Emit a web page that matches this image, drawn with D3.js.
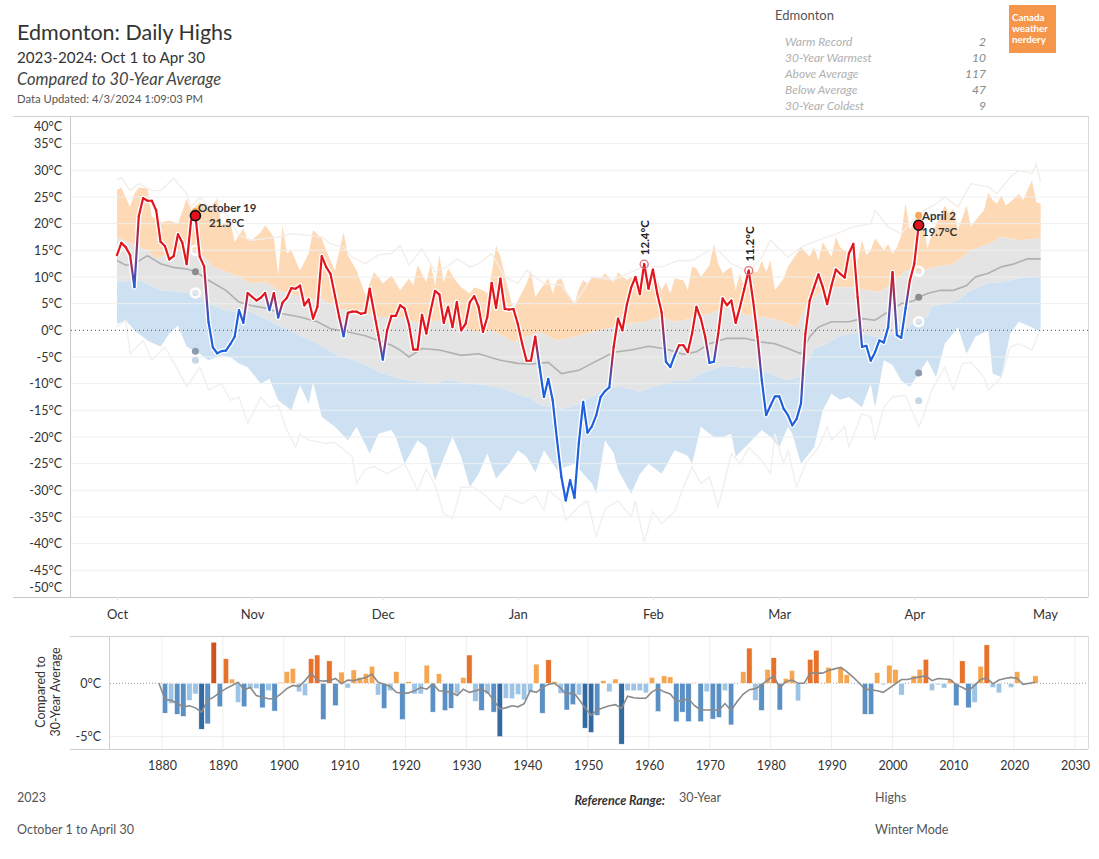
<!DOCTYPE html>
<html><head><meta charset="utf-8">
<script src="https://cdn.jsdelivr.net/npm/d3@7"></script>
<style>
body{margin:0;background:#fff;}
svg{display:block;font-family:"Lato","Open Sans",sans-serif;}
</style></head><body>
<svg id="c" width="1099" height="859"></svg>
<script>
// ---------- DATA ----------
// Daily highs 2023-10-01 .. 2024-04-02 (day offset = index)
const highs = [
 14.1,16.4,15.6,14.1,8.1,21.4,24.8,24.3,24.3,22.5,
 16.6,15.8,13.3,13.9,18.0,16.4,12.4,20.6,21.5,13.8,
 12.0,1.6,-3.2,-4.3,-3.9,-3.8,-2.6,-1.2,3.8,1.4,
 7.0,6.3,5.6,6.1,7.0,3.8,7.0,2.4,5.2,6.1,
 7.9,7.8,8.4,4.7,5.8,2.2,4.4,13.9,11.9,10.6,
 6.6,2.5,-1.1,3.3,3.5,3.5,3.1,3.3,7.8,3.4,
 -0.9,-5.5,0.0,2.7,2.7,4.7,4.1,1.2,-3.6,-3.6,
 2.9,-0.6,3.7,7.4,6.7,1.4,4.4,0.6,5.3,0.0,
 1.2,5.3,6.4,4.4,-0.3,2.5,8.9,4.2,9.7,4.0,
 3.9,4.0,1.2,-2.5,-5.7,-5.7,-1.2,-6.9,-12.5,-9.1,
 -13.1,-20.6,-27.5,-31.9,-28.1,-31.4,-21.2,-13.4,-19.2,-18.0,
 -15.9,-12.5,-11.4,-10.7,-3.1,2.2,0.0,4.7,8.0,10.0,
 6.8,12.4,7.8,11.4,6.9,3.4,-5.9,-6.9,-4.7,-2.8,
 -2.8,-4.1,-0.6,4.4,2.2,-1.2,-6.1,-5.9,-0.6,6.0,
 4.7,5.6,1.4,4.4,7.8,11.2,5.6,-1.2,-9.4,-15.9,
 -14.1,-12.4,-12.4,-14.7,-15.9,-17.8,-16.6,-13.7,-0.6,5.6,
 8.1,10.5,8.1,4.9,8.4,11.4,10.6,9.9,14.4,16.2,
 6.2,-3.1,-2.9,-5.7,-4.1,-1.9,-2.3,0.6,10.9,-0.9,
 -1.4,4.1,9.4,12.5,19.7
];
// Reference bands: [day offset from Oct 1, °C]
const faintHigh = [[0,28.1],[1,28.7],[3,26.2],[5,27.5],[8,26.2],[10,26.2],[13,28.5],[16,25.6],[17,23.1],[19,25.0],[22,22.5],[25,21.9],[28,17.8],[31,16.9],[34,17.2],[37,17.5],[40,18.1],[44,17.8],[47,17.5],[49,16.2],[52,15.6],[54,13.7],[57,12.5],[60,14.1],[63,14.4],[65,15.9],[67,12.2],[70,15.3],[73,11.0],[76,12.0],[78,13.4],[81,11.9],[83,12.5],[86,14.4],[89,10.0],[92,8.8],[94,11.2],[98,8.8],[102,8.5],[105,5.0],[109,10.0],[114,9.4],[117,10.6],[121,12.0],[125,11.9],[129,13.1],[132,13.1],[136,15.0],[138,15.0],[141,12.5],[145,11.0],[148,13.7],[150,16.9],[154,13.7],[157,15.6],[161,16.9],[165,18.1],[169,19.4],[173,20.0],[174,22.5],[177,19.4],[180,18.1],[184,21.9],[188,23.7],[190,25.0],[193,23.1],[196,27.5],[200,26.9],[202,25.6],[205,28.7],[207,30.0],[210,29.4],[211,31.2],[212,27.7]];
const max30 = [[0,26.3],[1,26.8],[3,23.1],[4,25.6],[5,26.8],[7,26.6],[8,21.3],[10,20.2],[12,20.6],[14,20.0],[16,24.7],[17,22.5],[19,24.0],[21,22.5],[23,24.7],[24,19.7],[26,20.6],[27,16.5],[29,19.1],[30,16.9],[31,16.9],[33,18.4],[34,19.7],[36,17.5],[37,10.3],[38,19.7],[39,14.4],[40,15.0],[42,11.2],[44,14.4],[45,18.8],[47,17.2],[48,15.0],[50,11.2],[52,18.4],[53,14.1],[55,11.2],[57,6.6],[58,8.8],[59,10.9],[60,10.0],[61,8.8],[63,10.3],[65,7.5],[67,9.7],[68,8.4],[69,12.2],[71,9.0],[72,12.5],[73,8.4],[74,14.1],[75,9.0],[76,11.6],[78,9.0],[79,8.1],[81,6.9],[82,8.1],[84,7.5],[85,6.9],[86,10.7],[87,15.9],[88,13.8],[90,6.9],[91,4.0],[92,5.6],[94,8.8],[95,11.2],[96,6.2],[97,7.5],[99,9.7],[100,6.9],[101,9.4],[102,9.7],[103,7.5],[105,5.0],[106,7.8],[107,9.4],[108,8.8],[109,10.0],[111,9.7],[112,10.7],[114,9.0],[115,10.9],[117,9.4],[118,10.0],[120,8.8],[121,10.7],[122,9.4],[123,11.2],[125,7.5],[126,9.0],[127,6.9],[128,9.7],[130,9.4],[131,7.5],[132,11.9],[133,11.6],[134,10.0],[136,12.2],[137,16.2],[138,12.5],[139,10.7],[141,11.9],[142,7.5],[143,10.7],[144,7.5],[145,11.2],[147,10.9],[148,13.1],[149,10.9],[150,13.1],[151,7.5],[153,9.7],[154,11.9],[156,14.4],[157,15.6],[159,13.8],[160,15.6],[161,13.1],[162,16.5],[164,13.8],[165,17.5],[166,15.6],[168,14.4],[169,15.3],[170,13.1],[171,16.9],[172,14.1],[173,15.0],[174,17.2],[176,15.0],[177,16.2],[178,14.4],[179,15.6],[180,17.8],[181,23.8],[182,18.8],[184,22.1],[185,20.6],[186,15.3],[187,18.1],[189,21.6],[190,23.4],[191,21.9],[192,22.8],[193,18.8],[195,23.4],[196,19.4],[197,20.6],[199,22.5],[200,25.9],[201,24.4],[202,23.8],[203,25.3],[204,23.4],[205,24.0],[207,25.6],[208,24.4],[209,26.3],[210,28.1],[211,24.0],[212,23.8]];
const upperNorm = [[0,17.5],[4,15.9],[7,15.0],[9,13.4],[12,14.4],[14,15.0],[18,15.0],[20,13.8],[22,11.9],[26,10.7],[28,10.0],[31,8.8],[34,9.1],[37,7.5],[41,6.6],[44,5.6],[47,5.9],[50,4.4],[53,3.7],[56,3.7],[58,3.1],[60,2.5],[65,2.5],[70,1.2],[74,1.9],[79,0.6],[83,-0.3],[86,0.0],[89,-1.2],[91,-2.2],[94,-1.2],[97,-0.3],[101,-1.9],[105,-1.2],[109,-0.3],[114,0.6],[117,1.2],[121,1.6],[125,2.5],[128,1.6],[132,2.2],[136,3.1],[140,4.4],[143,3.1],[148,2.5],[152,1.9],[156,0.6],[158,4.4],[161,6.9],[165,8.1],[169,8.1],[172,7.5],[175,7.2],[178,8.8],[181,11.2],[184,11.1],[188,11.9],[192,12.5],[196,15.0],[200,16.2],[203,17.5],[207,16.9],[212,17.2]];
const meanT = [[0,13.1],[2,12.2],[4,12.5],[7,14.0],[10,12.5],[13,11.8],[16,11.5],[18,11.0],[21,9.4],[25,7.5],[28,5.3],[31,4.6],[34,4.2],[38,3.1],[42,2.5],[46,1.6],[49,0.3],[53,-0.3],[57,-1.0],[60,-1.9],[63,-2.8],[65,-3.7],[67,-5.0],[70,-3.4],[74,-3.7],[79,-4.7],[83,-4.4],[88,-5.6],[92,-6.2],[95,-6.3],[99,-6.0],[102,-8.1],[106,-7.5],[109,-6.2],[114,-4.1],[118,-3.7],[122,-3.0],[126,-3.5],[130,-4.5],[133,-4.0],[136,-2.5],[140,-1.5],[144,-1.5],[148,-2.2],[151,-2.5],[154,-3.4],[157,-4.4],[159,-1.2],[161,0.6],[164,1.6],[168,1.6],[171,2.2],[174,1.9],[177,3.5],[180,5.0],[183,5.6],[184,6.2],[186,6.9],[189,7.5],[192,7.5],[195,8.4],[197,10.0],[200,10.7],[203,11.9],[206,12.5],[209,13.4],[212,13.4]];
const lowerNorm = [[0,9.0],[5,9.4],[10,7.5],[14,7.2],[18,6.9],[21,5.0],[25,3.7],[28,3.4],[30,3.7],[33,2.5],[38,0.6],[42,-1.0],[46,-2.5],[50,-4.5],[54,-5.5],[57,-6.5],[61,-8.1],[65,-9.1],[69,-9.6],[73,-10.0],[76,-9.2],[80,-9.9],[84,-10.2],[88,-10.8],[92,-12.0],[95,-12.8],[97,-14.0],[102,-14.7],[105,-14.3],[109,-12.5],[112,-11.0],[116,-10.6],[120,-11.5],[124,-10.4],[128,-9.5],[131,-9.5],[135,-7.8],[139,-6.7],[143,-6.9],[147,-7.2],[151,-8.5],[154,-9.4],[157,-8.5],[158,-7.0],[160,-3.5],[163,-2.5],[166,-1.0],[170,-0.5],[174,-1.2],[177,-1.0],[180,-0.3],[182,0.9],[184,1.6],[186,2.5],[187,4.4],[190,5.0],[193,5.6],[196,7.5],[200,8.8],[203,9.0],[207,9.7],[212,10.3]];
const min30 = [[0,1.2],[2,1.9],[4,0.0],[7,-1.9],[10,-3.1],[12,-0.6],[14,0.9],[16,-3.1],[19,-4.4],[21,-5.6],[24,-4.7],[26,-5.0],[28,-6.2],[30,-6.9],[33,-10.0],[35,-9.1],[37,-13.1],[40,-15.0],[42,-10.3],[44,-13.7],[45,-9.7],[47,-16.2],[50,-18.1],[53,-20.6],[55,-18.1],[58,-23.1],[60,-19.4],[63,-18.7],[64,-20.0],[66,-25.0],[69,-20.6],[71,-21.9],[73,-28.1],[76,-21.9],[77,-20.0],[79,-23.7],[81,-29.4],[83,-26.9],[85,-23.1],[87,-27.8],[90,-25.0],[92,-22.5],[94,-23.7],[96,-26.6],[98,-22.5],[101,-26.2],[105,-25.0],[107,-26.9],[109,-28.7],[110,-30.6],[112,-20.6],[114,-23.0],[115,-26.2],[118,-30.6],[120,-27.0],[122,-25.0],[125,-26.9],[128,-22.5],[131,-23.5],[132,-25.0],[134,-18.1],[137,-20.0],[139,-20.0],[141,-19.4],[142,-23.7],[145,-21.2],[148,-18.7],[150,-20.0],[152,-21.9],[154,-18.1],[155,-19.4],[157,-25.0],[160,-21.9],[162,-15.0],[164,-11.9],[166,-13.0],[168,-12.5],[171,-14.4],[173,-10.0],[174,-14.4],[176,-5.6],[178,-6.5],[180,-9.4],[182,-10.6],[184,-8.1],[186,-5.6],[188,-8.8],[190,-2.5],[193,0.6],[195,-4.4],[197,-1.2],[200,0.0],[201,-8.1],[203,-8.8],[205,-0.6],[207,1.6],[210,0.6],[212,-0.3]];
const faintLow = [[0,0.6],[2,1.9],[3,-4.4],[6,-1.9],[8,-5.6],[11,-3.1],[14,-7.5],[16,-10.6],[19,-6.9],[21,-11.2],[24,-10.0],[26,-13.1],[28,-12.5],[30,-17.5],[33,-12.5],[35,-14.4],[37,-14.0],[39,-18.7],[41,-21.9],[42,-19.4],[44,-20.6],[48,-21.2],[50,-21.0],[54,-23.7],[55,-28.7],[57,-26.0],[59,-25.5],[62,-26.9],[64,-26.0],[66,-25.0],[69,-30.0],[71,-26.0],[73,-29.0],[75,-34.4],[77,-35.3],[79,-29.4],[82,-29.5],[84,-30.6],[88,-33.7],[89,-31.0],[93,-32.5],[96,-31.0],[98,-33.7],[99,-30.0],[102,-32.0],[103,-35.6],[106,-33.0],[108,-32.0],[110,-38.7],[112,-33.5],[115,-32.0],[118,-35.0],[119,-32.0],[121,-39.7],[123,-34.0],[125,-36.2],[128,-34.0],[130,-29.4],[132,-25.6],[134,-28.7],[136,-27.5],[138,-33.1],[141,-23.1],[143,-25.0],[145,-22.0],[148,-24.4],[150,-26.9],[151,-19.4],[153,-25.0],[154,-22.5],[156,-29.4],[158,-25.0],[161,-22.0],[163,-18.1],[164,-20.6],[167,-18.0],[168,-21.9],[171,-15.6],[173,-16.2],[174,-20.6],[176,-14.4],[178,-12.5],[181,-12.2],[184,-18.1],[185,-16.2],[187,-11.2],[190,-6.9],[192,-11.2],[194,-6.2],[196,-6.0],[199,-8.8],[200,-11.2],[203,-8.8],[205,-3.1],[207,-2.5],[210,-3.7],[212,0.6]];

// Highlighted days
const peakDays = [18, 184];
const peakNames = ["October 19", "April 2"];
const refDotVals = [[22.3, 15.0, 11.0, 7.0, -3.9, -5.6], [21.6, 11.1, 6.2, 1.6, -8.0, -13.2]];
const recordDays = [121, 145];

const yTicks = [40,35,30,25,20,15,10,5,0,-5,-10,-15,-20,-25,-30,-35,-40,-45,-50];

// Stats panel
const statLabels = ["Warm Record","30-Year Warmest","Above Average","Below Average","30-Year Coldest"];
const statValues = [2, 10, 117, 47, 9];

// Seasonal anomaly history (Oct–Apr mean high vs 30-yr avg)
const annYears = d3.range(1881, 2025);
const annAnom = [
 -2.8,-1.9,-2.9,-3.1,-1.6,-1.0,-4.3,-3.8,3.85,-2.2,
 2.3,0.4,-1.8,-2.2,-0.5,-0.5,-2.3,-0.7,-2.6,0.1,
 1.1,1.4,-0.8,-1.15,2.3,2.65,-3.4,2.1,-2.1,1.05,
 -0.45,1.25,0.55,0.9,1.6,-1.1,-2.35,-0.7,1.1,-3.4,
 0.15,-1.0,-1.0,1.7,-2.7,0.9,-2.55,-2.35,-1.0,0.55,
 2.65,-1.7,-2.55,-1.0,-2.7,-5.0,-1.4,-1.45,-1.05,-1.55,
 -0.85,1.8,-2.8,2.2,0.15,-0.95,-2.5,-2.0,-1.1,-4.2,
 -4.6,-3.0,0.25,-0.8,0.4,-5.7,-0.7,-0.7,-0.7,-0.9,
 0.55,-2.65,0.7,0.6,-3.6,-2.7,-3.6,0.05,-3.6,-0.8,
 -3.35,-3.2,-0.7,-3.9,0.0,1.1,3.3,-1.6,-2.55,1.3,
 2.4,-2.5,0.45,1.2,-1.65,0.0,2.25,3.1,0.0,1.5,
 0.0,1.5,0.8,0.0,-0.1,-2.9,-2.9,1.0,-0.15,1.7,
 1.3,-1.1,0.0,0.7,1.3,2.25,-0.7,-0.15,-0.45,0.35,
 -2.1,2.1,-2.3,-1.8,1.6,3.6,-0.4,-0.9,0.0,-0.4,
 1.1,-0.15,-0.1,0.7
];
const runAvg = [[1880,0],[1881,-1.5],[1882,-1.6],[1884,-2.2],[1885,-2.1],[1886,-2.3],[1887,-2.7],[1888,-1.6],[1889,-1.3],[1890,-0.85],[1891,-0.5],[1892,-0.2],[1893,0.1],[1894,-0.6],[1895,-0.4],[1896,-1.15],[1897,-1.3],[1898,-1.45],[1899,-1.45],[1900,-1.0],[1901,-0.5],[1902,-0.2],[1903,-0.3],[1904,0.25],[1905,0.95],[1906,0.3],[1907,0.2],[1908,0.25],[1909,0.45],[1910,-0.05],[1911,0.3],[1912,0.25],[1913,0.4],[1914,0.55],[1915,0.85],[1916,0.1],[1917,-0.1],[1918,-0.3],[1919,-0.85],[1920,-0.95],[1921,-0.9],[1922,-0.7],[1923,-0.4],[1924,-0.55],[1925,-0.05],[1926,-0.7],[1927,-0.75],[1928,-0.85],[1929,-1.15],[1930,-0.55],[1931,-0.85],[1932,-0.7],[1933,-0.55],[1934,-0.85],[1935,-1.6],[1936,-2.4],[1937,-2.3],[1938,-2.1],[1939,-2.2],[1940,-1.9],[1941,-0.7],[1942,-0.85],[1943,-0.4],[1944,-0.1],[1945,0],[1946,-0.45],[1947,-1.1],[1948,-0.8],[1949,-1.5],[1950,-2.3],[1951,-3.0],[1952,-2.5],[1953,-2.3],[1954,-2.1],[1955,-2.0],[1956,-2.35],[1957,-1.2],[1958,-1.35],[1959,-1.4],[1960,-1.4],[1961,-0.8],[1962,-0.5],[1963,-0.8],[1964,-1.0],[1965,-1.7],[1966,-1.6],[1967,-1.45],[1968,-2.1],[1969,-2.5],[1970,-2.5],[1971,-2.5],[1972,-2.5],[1973,-1.9],[1974,-2.55],[1975,-1.7],[1976,-1.0],[1977,-0.6],[1978,-0.5],[1979,-0.15],[1980,0.3],[1981,0.7],[1982,-0.4],[1983,0.15],[1984,0.3],[1985,0.0],[1986,0.0],[1987,0.95],[1988,0.95],[1989,0.95],[1990,1.2],[1991,1.35],[1992,1.5],[1993,1.1],[1994,0.6],[1995,0.05],[1996,-0.55],[1997,-0.6],[1998,-0.7],[1999,-0.85],[2000,-0.45],[2001,-0.05],[2002,0.35],[2003,0.35],[2004,0.5],[2005,0.6],[2006,0.7],[2007,0.25],[2008,0.45],[2009,0.4],[2010,0.35],[2011,-0.15],[2012,-0.4],[2013,-0.7],[2014,-0.2],[2015,0.35],[2016,0.5],[2017,-0.05],[2018,0.3],[2019,0.45],[2020,0.55],[2021,0.45],[2022,-0.1],[2023,0.0],[2024,0.1]];
const decadeTicks = d3.range(1880, 2031, 10);

// ---------- DRAW ----------
const svg = d3.select('#c');
const FONT = '"Lato","Open Sans",sans-serif';
const start = new Date(2023, 9, 1);
const dayDate = d => d3.timeDay.offset(start, d);
const x = d3.scaleTime().domain([start, new Date(2024, 4, 1)]).range([117, 1045]);
const y = d3.scaleLinear().domain([-50, 40]).range([597, 117]);
const pt = ([d, v]) => [x(dayDate(d)), y(v)];
const line = d3.line();

// header
const hdr = svg.append('g').attr('fill', '#333');
hdr.append('text').attr('x', 17).attr('y', 40).attr('font-size', 21.5).text('Edmonton: Daily Highs');
hdr.append('text').attr('x', 17).attr('y', 63).attr('font-size', 15.2).text('2023-2024: Oct 1 to Apr 30');
hdr.append('text').attr('x', 17).attr('y', 85).attr('font-size', 16.5).attr('font-style', 'italic').attr('fill', '#444').text('Compared to 30-Year Average');
hdr.append('text').attr('x', 17).attr('y', 103).attr('font-size', 11.3).attr('fill', '#555').text('Data Updated: 4/3/2024 1:09:03 PM');

// stats panel
svg.append('text').attr('x', 775).attr('y', 20).attr('font-size', 13).attr('fill', '#555').text('Edmonton');
statLabels.forEach((s, i) => {
  const yy = 46 + i * 16;
  svg.append('text').attr('x', 785).attr('y', yy).attr('font-size', 12).attr('font-style', 'italic').attr('fill', '#b0b0b0').text(s);
  svg.append('text').attr('x', 986).attr('y', yy).attr('font-size', 12).attr('font-style', 'italic').attr('fill', '#888').attr('text-anchor', 'end').text(statValues[i]);
});
// logo
svg.append('rect').attr('x', 1009).attr('y', 5).attr('width', 47).attr('height', 48).attr('fill', '#f5964b');
['Canada', 'weather', 'nerdery'].forEach((t, i) => {
  svg.append('text').attr('x', 1012).attr('y', 21 + i * 11).attr('font-size', 9.8).attr('font-weight', 'bold').attr('fill', '#fff').text(t);
});

// frame lines
svg.append('line').attr('x1', 13).attr('x2', 1088).attr('y1', 116.5).attr('y2', 116.5).attr('stroke', '#d0d0d0');
svg.append('line').attr('x1', 13).attr('x2', 1088).attr('y1', 597.5).attr('y2', 597.5).attr('stroke', '#c8c8c8');
svg.append('line').attr('x1', 1088.5).attr('x2', 1088.5).attr('y1', 116).attr('y2', 597).attr('stroke', '#d8d8d8');

// bands
const poly = (top, bot) => line(top.map(pt).concat(bot.slice().reverse().map(pt))) + 'Z';
svg.append('path').attr('d', poly(max30, upperNorm)).attr('fill', '#fdd9b6');
svg.append('path').attr('d', poly(upperNorm, lowerNorm)).attr('fill', '#e4e4e4');
svg.append('path').attr('d', poly(lowerNorm, min30)).attr('fill', '#cde1f2');

// gridlines (on top of bands)
const grid = svg.append('g');
yTicks.filter(t => t !== 40 && t !== -50 && t !== 0).forEach(t => {
  grid.append('line').attr('x1', 71).attr('x2', 1088).attr('y1', y(t)).attr('y2', y(t))
    .attr('stroke', '#efefef').attr('stroke-width', 1);
});

// faint reference lines
svg.append('path').attr('d', line(faintHigh.map(pt))).attr('fill', 'none').attr('stroke', '#f3eeea').attr('stroke-width', 1.4);
svg.append('path').attr('d', line(faintLow.map(pt))).attr('fill', 'none').attr('stroke', '#f0f0f0').attr('stroke-width', 1.4);
// mean line
svg.append('path').attr('d', line(meanT.map(pt))).attr('fill', 'none').attr('stroke', '#b0b0b0').attr('stroke-width', 1.6);

// zero line
svg.append('line').attr('x1', 71).attr('x2', 1088).attr('y1', y(0)).attr('y2', y(0))
  .attr('stroke', '#555').attr('stroke-dasharray', '1,3').attr('stroke-width', 1);

// axis line
svg.append('line').attr('x1', 70.5).attr('x2', 70.5).attr('y1', 116).attr('y2', 597).attr('stroke', '#c8c8c8');

// y axis labels
const yAxis = svg.append('g').attr('transform', 'translate(70,0)')
  .call(d3.axisLeft(y).tickValues(yTicks).tickSize(0).tickPadding(8).tickFormat(d => d + '°C'));
yAxis.select('.domain').remove();
yAxis.selectAll('text').attr('font-size', 12.5).attr('fill', '#333').attr('font-family', FONT)
  .attr('dy', d => d === 40 ? '1.1em' : (d === -50 ? '-0.45em' : '0.32em'));

// x axis labels
const xAxis = svg.append('g').attr('transform', 'translate(0,597)')
  .call(d3.axisBottom(x).ticks(d3.timeMonth.every(1)).tickSize(3).tickPadding(10).tickFormat(d3.timeFormat('%b')));
xAxis.select('.domain').remove();
xAxis.selectAll('line').attr('stroke', '#e2e2e2');
xAxis.selectAll('text').attr('font-size', 13).attr('fill', '#333').attr('font-family', FONT);

// reference dots on highlighted days
const dotStyle = [
  {f: '#f6a760', s: 'none', r: 3.5},
  {f: 'none', s: '#ffffff', r: 4.5, w: 2.5},
  {f: '#8c8c8c', s: 'none', r: 3.5},
  {f: 'none', s: '#ffffff', r: 4.5, w: 2.5},
  {f: '#8e9bab', s: 'none', r: 3.5},
  {f: '#c7d7e8', s: 'none', r: 3.5}
];
peakDays.forEach((d, k) => {
  refDotVals[k].forEach((v, i) => {
    const st = dotStyle[i];
    svg.append('circle').attr('cx', x(dayDate(d))).attr('cy', y(v)).attr('r', st.r)
      .attr('fill', st.f).attr('stroke', st.s).attr('stroke-width', st.w || 0);
  });
});

// actual line with colour gradient (red above mean, blue below)
const meanAt = d => {
  const i = d3.bisector(p => p[0]).left(meanT, d);
  if (i <= 0) return meanT[0][1];
  if (i >= meanT.length) return meanT[meanT.length - 1][1];
  const a = meanT[i - 1], b = meanT[i];
  if (b[0] === d) return b[1];
  return a[1] + (b[1] - a[1]) * (d - a[0]) / (b[0] - a[0]);
};
const RED = '#e2141c', BLUE = '#1d5fdc';
const col = d => highs[d] >= meanAt(d) ? RED : BLUE;
const hp = highs.map((v, d) => [x(dayDate(d)), y(v)]);
svg.append('path').attr('d', line(hp)).attr('fill', 'none').attr('stroke', '#fff').attr('stroke-width', 5).attr('stroke-linejoin', 'round');
const defs = svg.append('defs');
const segG = svg.append('g');
for (let d = 0; d < highs.length - 1; d++) {
  const id = 'g' + d;
  const g = defs.append('linearGradient').attr('id', id).attr('gradientUnits', 'userSpaceOnUse')
    .attr('x1', hp[d][0]).attr('y1', hp[d][1]).attr('x2', hp[d + 1][0]).attr('y2', hp[d + 1][1]);
  g.append('stop').attr('offset', '0%').attr('stop-color', col(d));
  g.append('stop').attr('offset', '100%').attr('stop-color', col(d + 1));
  segG.append('path').attr('d', line([hp[d], hp[d + 1]])).attr('fill', 'none')
    .attr('stroke', `url(#${id})`).attr('stroke-width', 2.2).attr('stroke-linecap', 'round');
}

// record markers & vertical labels
recordDays.forEach(d => {
  const cx = x(dayDate(d)), cy = y(highs[d]);
  svg.append('circle').attr('cx', cx).attr('cy', cy).attr('r', 4).attr('fill', 'none').attr('stroke', '#d9747a').attr('stroke-width', 1.3);
  svg.append('text').attr('transform', `translate(${cx + 5},${cy - 9}) rotate(-90)`)
    .attr('font-size', 11.5).attr('font-weight', 'bold').attr('fill', '#222').text(highs[d].toFixed(1) + '°C');
});

// peak markers
peakDays.forEach((d, k) => {
  const cx = x(dayDate(d)), cy = y(highs[d]);
  svg.append('circle').attr('cx', cx).attr('cy', cy).attr('r', 5).attr('fill', '#e8101a').attr('stroke', '#111').attr('stroke-width', 1.6);
});
svg.append('text').attr('x', 198).attr('y', 212).attr('font-size', 11.5).attr('font-weight', 'bold').attr('fill', '#333').text(peakNames[0]);
svg.append('text').attr('x', 209).attr('y', 227).attr('font-size', 11.5).attr('font-weight', 'bold').attr('fill', '#333').text(highs[18].toFixed(1) + '°C');
svg.append('text').attr('x', 922).attr('y', 220).attr('font-size', 11.5).attr('font-weight', 'bold').attr('fill', '#333').text(peakNames[1]);
svg.append('text').attr('x', 922).attr('y', 236).attr('font-size', 11.5).attr('font-weight', 'bold').attr('fill', '#333').text(highs[184].toFixed(1) + '°C');

// ---------- BOTTOM CHART ----------
const xb = d3.scaleLinear().domain([1880, 2030]).range([162, 1075]);
const yb = d3.scaleLinear().domain([-5, 0]).range([736.7, 683.3]);
const B = svg.append('g');
B.append('line').attr('x1', 70).attr('x2', 1088).attr('y1', 636.5).attr('y2', 636.5).attr('stroke', '#d0d0d0');
B.append('line').attr('x1', 70).attr('x2', 1088).attr('y1', 749.5).attr('y2', 749.5).attr('stroke', '#d0d0d0');
B.append('line').attr('x1', 109.5).attr('x2', 109.5).attr('y1', 636).attr('y2', 749).attr('stroke', '#d0d0d0');
B.append('line').attr('x1', 1088.5).attr('x2', 1088.5).attr('y1', 636).attr('y2', 749).attr('stroke', '#dcdcdc');
decadeTicks.forEach(t => {
  B.append('line').attr('x1', xb(t)).attr('x2', xb(t)).attr('y1', 637).attr('y2', 749).attr('stroke', '#efefef');
});
B.append('line').attr('x1', 110).attr('x2', 1088).attr('y1', yb(-5)).attr('y2', yb(-5)).attr('stroke', '#ececec');
B.append('line').attr('x1', 110).attr('x2', 1088).attr('y1', yb(0)).attr('y2', yb(0)).attr('stroke', '#999').attr('stroke-dasharray', '1,2');

// bars sit centred half a year before their season year tick
const barX = yr => xb(yr - 0.5);
const barColor = v => v >= 3.7 ? '#cf521d' : v >= 2.0 ? '#e9722b' : v > 0 ? '#f6a650'
  : v <= -4.0 ? '#3369a1' : v <= -2.0 ? '#5a90c4' : '#9dc4e4';
annYears.forEach((yr, i) => {
  const v = annAnom[i];
  if (Math.abs(v) < 0.03) return;
  B.append('rect').attr('x', barX(yr) - 2.7).attr('width', 5.4)
    .attr('y', Math.min(yb(v), yb(0))).attr('height', Math.abs(yb(v) - yb(0)))
    .attr('fill', barColor(v)).attr('stroke', '#fff').attr('stroke-width', 0.5);
});
B.append('path').attr('d', d3.line().x(d => barX(d[0])).y(d => yb(d[1]))(runAvg))
  .attr('fill', 'none').attr('stroke', '#8a8a8a').attr('stroke-width', 1.6);

const xbAxis = B.append('g').attr('transform', 'translate(0,749)')
  .call(d3.axisBottom(xb).tickValues(decadeTicks).tickSize(0).tickPadding(12).tickFormat(d3.format('d')));
xbAxis.select('.domain').remove();
xbAxis.selectAll('text').attr('font-size', 12.5).attr('fill', '#333').attr('font-family', FONT);
const ybAxis = B.append('g').attr('transform', 'translate(109,0)')
  .call(d3.axisLeft(yb).tickValues([0, -5]).tickSize(0).tickPadding(8).tickFormat(d => d + '°C'));
ybAxis.select('.domain').remove();
ybAxis.selectAll('text').attr('font-size', 12.5).attr('fill', '#333').attr('font-family', FONT);
B.append('text').attr('transform', 'translate(45,692) rotate(-90)').attr('text-anchor', 'middle').attr('font-size', 12.5).attr('fill', '#333').text('Compared to');
B.append('text').attr('transform', 'translate(60,692) rotate(-90)').attr('text-anchor', 'middle').attr('font-size', 12.5).attr('fill', '#333').text('30-Year Average');

// ---------- FOOTER ----------
const F = svg.append('g').attr('font-size', 12.5).attr('fill', '#555');
F.append('text').attr('x', 17).attr('y', 802).text('2023');
F.append('text').attr('x', 17).attr('y', 834).text('October 1 to April 30');
F.append('text').attr('x', 665).attr('y', 805).attr('text-anchor', 'end').attr('font-style', 'italic').attr('font-weight', 'bold').attr('fill', '#333').text('Reference Range:');
F.append('text').attr('x', 679).attr('y', 802).text('30-Year');
F.append('text').attr('x', 875).attr('y', 802).text('Highs');
F.append('text').attr('x', 875).attr('y', 834).text('Winter Mode');
</script>
</body></html>
